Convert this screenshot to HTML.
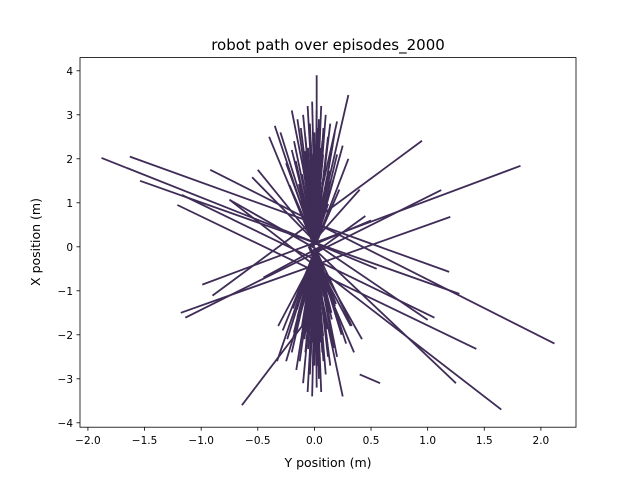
<!DOCTYPE html>
<html><head><meta charset="utf-8"><style>
body{margin:0;background:#fff}
svg text{font-family:"DejaVu Sans","Liberation Sans",sans-serif;fill:#000}
</style></head><body>
<svg id="chart" width="640" height="480" viewBox="0 0 640 480">
<rect width="640" height="480" fill="#fff"/>
<text x="328" y="50" font-size="15" text-anchor="middle">robot path over episodes_2000</text>
<g id="lines"></g>
<rect x="80" y="57.6" width="496" height="369.6" fill="none" stroke="#000" stroke-width="0.8"/>
<g id="xt"></g>
<g id="yt"></g>
<text x="328" y="467" font-size="12.5" text-anchor="middle">Y position (m)</text>
<text x="0" y="0" font-size="12.5" text-anchor="middle" transform="translate(40,242) rotate(-90)">X position (m)</text>
</svg>
<script>
const xTicks=[-2.0,-1.5,-1.0,-0.5,0.0,0.5,1.0,1.5,2.0];
const xTickLabels=["−2.0","−1.5","−1.0","−0.5","0.0","0.5","1.0","1.5","2.0"];
const yTicks=[-4,-3,-2,-1,0,1,2,3,4];
const yTickLabels=["−4","−3","−2","−1","0","1","2","3","4"];
// long segments (data coords)
const segX1=[-1.88,-1.63,-1.54,-1.21,-1.17,-0.99,-1.18,-1.14,-0.90,2.12,1.65,1.25,1.00,-0.64,-0.75,0.58,0.55,-0.40,-0.50,-0.35,0.30,0.45,-0.55,0.35,0.20,-0.25,0.02,-0.20,0.25,-0.32,0.32,0.40,-0.45,0.50,0.42];
const segY1=[2.02,2.05,1.50,0.95,1.18,-0.86,-1.50,-1.61,-1.11,-2.20,-3.70,-3.10,-1.66,-3.60,1.07,-3.10,-0.50,2.50,1.75,2.75,3.45,0.70,1.58,-2.40,2.85,-2.60,3.90,3.10,-3.40,-1.80,-1.80,1.30,-0.70,0.60,-2.10];
const segX2=[0.05,1.19,1.28,1.43,1.06,1.82,1.20,1.12,0.95,-0.92,-0.75,0.02,0.05,-0.02,0.05,0.40,-0.20,0.00,0.02,-0.02,0.00,0.02,0.05,-0.05,-0.03,0.03,0.02,0.03,-0.02,0.05,-0.05,-0.05,0.05,-0.05,-0.04];
const segY2=[0.05,-0.57,-1.07,-2.32,-1.61,1.84,0.68,1.29,2.41,1.75,1.07,-0.10,0.00,-1.50,-0.10,-2.90,0.30,0.00,0.10,0.20,0.10,-0.10,0.00,0.00,0.20,-0.20,0.30,0.10,-0.10,0.00,0.00,0.00,0.00,0.00,0.00];
// dense central bundle: segments from near origin to these endpoints
const bundleX=[-0.15,-0.12,-0.10,-0.08,-0.06,-0.04,-0.02,0.00,0.02,0.04,0.06,0.08,0.10,0.12,0.14,0.16,-0.18,0.18,-0.20,0.20,-0.10,0.10,-0.05,0.05,-0.14,0.14,-0.25,0.25,-0.30,0.30,-0.22,0.22,-0.07,0.07,-0.03,0.03,
 -0.16,-0.13,-0.10,-0.08,-0.06,-0.04,-0.02,0.00,0.02,0.04,0.06,0.08,0.10,0.12,0.14,0.17,-0.20,0.20,-0.24,0.24,-0.11,0.11,-0.05,0.05,-0.15,0.15,-0.28,0.28,-0.33,0.33,-0.19,0.19,-0.07,0.07,-0.03,0.03];
const bundleY=[2.90,2.70,3.00,2.50,3.20,2.80,3.30,2.60,3.10,2.90,3.20,2.70,3.00,2.50,2.80,2.30,2.40,2.60,2.20,2.10,2.00,2.00,1.80,1.90,1.60,1.50,1.90,2.30,2.60,2.00,1.40,1.30,2.20,2.40,1.50,2.70,
 -2.80,-2.60,-3.10,-2.40,-3.30,-2.90,-3.40,-2.70,-3.20,-3.00,-3.30,-2.60,-2.90,-2.50,-2.70,-2.30,-2.40,-2.50,-2.10,-2.00,-2.00,-2.10,-1.80,-1.90,-1.60,-1.50,-1.90,-2.20,-2.60,-1.80,-1.40,-1.30,-2.20,-2.40,-1.50,-2.70];
const X0=80,X1=576,Y0=57.6,Y1=427.2,xmin=-2.07,xmax=2.31,ymin=-4.10,ymax=4.30;
const sx=v=>X0+(v-xmin)/(xmax-xmin)*(X1-X0);
const sy=v=>Y1-(v-ymin)/(ymax-ymin)*(Y1-Y0);
const NS="http://www.w3.org/2000/svg";
const lg=document.getElementById('lines');
function seg(a,b,c,d){
  const l=document.createElementNS(NS,'line');
  l.setAttribute('x1',sx(a));l.setAttribute('y1',sy(b));
  l.setAttribute('x2',sx(c));l.setAttribute('y2',sy(d));
  l.setAttribute('stroke','#3f2c57');l.setAttribute('stroke-width','1.8');
  
  
  lg.appendChild(l);
}
for(let i=0;i<segX1.length;i++) seg(segX1[i],segY1[i],segX2[i],segY2[i]);
for(let i=0;i<bundleX.length;i++){
  const s=bundleY[i]>0?1:-1;
  seg(0.01,0.05*s,bundleX[i],bundleY[i]);
  seg(0.0,0.05*s,bundleX[i]*0.55,bundleY[i]*0.75);
}
const xt=document.getElementById('xt');
xTicks.forEach((v,i)=>{
  const x=sx(v);
  const t=document.createElementNS(NS,'line');
  t.setAttribute('x1',x);t.setAttribute('x2',x);t.setAttribute('y1',Y1);t.setAttribute('y2',Y1+3.5);t.setAttribute('stroke','#000');t.setAttribute('stroke-width','0.8');
  
  
  xt.appendChild(t);
  const s=document.createElementNS(NS,'text');
  s.setAttribute('x',x);s.setAttribute('y',Y1+17);s.setAttribute('font-size','10.5');s.setAttribute('text-anchor','middle');
  s.textContent=xTickLabels[i];
  
  
  xt.appendChild(s);
});
const yt=document.getElementById('yt');
yTicks.forEach((v,i)=>{
  const y=sy(v);
  const t=document.createElementNS(NS,'line');
  t.setAttribute('x1',X0-3.5);t.setAttribute('x2',X0);t.setAttribute('y1',y);t.setAttribute('y2',y);t.setAttribute('stroke','#000');t.setAttribute('stroke-width','0.8');
  
  
  yt.appendChild(t);
  const s=document.createElementNS(NS,'text');
  s.setAttribute('x',X0-7);s.setAttribute('y',y+4);s.setAttribute('font-size','10.5');s.setAttribute('text-anchor','end');
  s.textContent=yTickLabels[i];
  
  
  yt.appendChild(s);
});
</script>
</body></html>
